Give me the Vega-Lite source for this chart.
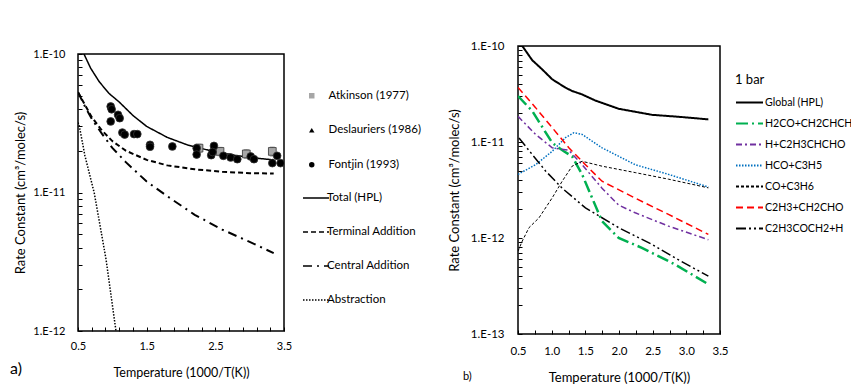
{
  "$schema": "https://vega.github.io/schema/vega-lite/v6.json",
  "padding": {"left": 10, "top": 39, "right": 0, "bottom": 0},
  "config": {
    "font": "Lato",
    "view": {"stroke": "#000", "strokeWidth": 1.5},
    "axis": {"domain": false, "grid": false, "tickColor": "#000", "tickSize": -4, "tickWidth": 1, "labelColor": "#000", "titleColor": "#000", "labelFontSize": 11, "titleFontSize": 13, "titleFontWeight": "normal", "labelFlush": false, "labelOverlap": false, "labelBound": false},
    "legend": {"labelFontSize": 11, "labelColor": "#000", "padding": 0},
    "title": {"color": "#000", "fontWeight": "normal"}
  },
  "title": {"text": "a)", "orient": "bottom", "anchor": "start", "frame": "bounds", "fontSize": 16, "dx": -4, "dy": -24, "offset": 0},
  "spacing": 25,
  "datasets": {
    "leftLines": [
      {"curve": "Total (HPL)", "x": 0.5, "y": 1.3e-10},
      {"curve": "Total (HPL)", "x": 0.587, "y": 1.0e-10},
      {"curve": "Total (HPL)", "x": 0.684, "y": 7.9e-11},
      {"curve": "Total (HPL)", "x": 0.81, "y": 6.3e-11},
      {"curve": "Total (HPL)", "x": 0.95, "y": 5.2e-11},
      {"curve": "Total (HPL)", "x": 1.1, "y": 4.5e-11},
      {"curve": "Total (HPL)", "x": 1.3, "y": 3.6e-11},
      {"curve": "Total (HPL)", "x": 1.5, "y": 3.0e-11},
      {"curve": "Total (HPL)", "x": 1.8, "y": 2.5e-11},
      {"curve": "Total (HPL)", "x": 2.1, "y": 2.2e-11},
      {"curve": "Total (HPL)", "x": 2.4, "y": 2.02e-11},
      {"curve": "Total (HPL)", "x": 2.8, "y": 1.85e-11},
      {"curve": "Total (HPL)", "x": 3.1, "y": 1.77e-11},
      {"curve": "Total (HPL)", "x": 3.35, "y": 1.72e-11},
      {"curve": "Terminal Addition", "x": 0.5, "y": 5.3e-11},
      {"curve": "Terminal Addition", "x": 0.6, "y": 4.3e-11},
      {"curve": "Terminal Addition", "x": 0.7, "y": 3.5e-11},
      {"curve": "Terminal Addition", "x": 0.85, "y": 2.8e-11},
      {"curve": "Terminal Addition", "x": 1.0, "y": 2.35e-11},
      {"curve": "Terminal Addition", "x": 1.2, "y": 2.0e-11},
      {"curve": "Terminal Addition", "x": 1.5, "y": 1.72e-11},
      {"curve": "Terminal Addition", "x": 1.8, "y": 1.57e-11},
      {"curve": "Terminal Addition", "x": 2.2, "y": 1.47e-11},
      {"curve": "Terminal Addition", "x": 2.6, "y": 1.41e-11},
      {"curve": "Terminal Addition", "x": 3.0, "y": 1.38e-11},
      {"curve": "Terminal Addition", "x": 3.35, "y": 1.37e-11},
      {"curve": "Central Addition", "x": 0.5, "y": 5.3e-11},
      {"curve": "Central Addition", "x": 0.6, "y": 4.2e-11},
      {"curve": "Central Addition", "x": 0.7, "y": 3.4e-11},
      {"curve": "Central Addition", "x": 0.85, "y": 2.65e-11},
      {"curve": "Central Addition", "x": 1.0, "y": 2.1e-11},
      {"curve": "Central Addition", "x": 1.2, "y": 1.65e-11},
      {"curve": "Central Addition", "x": 1.5, "y": 1.2e-11},
      {"curve": "Central Addition", "x": 1.8, "y": 9.4e-12},
      {"curve": "Central Addition", "x": 2.2, "y": 6.9e-12},
      {"curve": "Central Addition", "x": 2.6, "y": 5.4e-12},
      {"curve": "Central Addition", "x": 3.0, "y": 4.4e-12},
      {"curve": "Central Addition", "x": 3.35, "y": 3.65e-12},
      {"curve": "Abstraction", "x": 0.5, "y": 3.2e-11},
      {"curve": "Abstraction", "x": 0.52, "y": 3.0e-11},
      {"curve": "Abstraction", "x": 0.6, "y": 1.85e-11},
      {"curve": "Abstraction", "x": 0.737, "y": 9.9e-12},
      {"curve": "Abstraction", "x": 0.908, "y": 3.3e-12},
      {"curve": "Abstraction", "x": 1.053, "y": 1.0e-12}
    ],
    "leftPts": [
      {"source": "Atkinson (1977)", "x": 2.262, "y": 2.09e-11, "err": 1.5e-12},
      {"source": "Atkinson (1977)", "x": 2.568, "y": 1.98e-11, "err": 1.4e-12},
      {"source": "Atkinson (1977)", "x": 2.951, "y": 1.9e-11, "err": 1.4e-12},
      {"source": "Atkinson (1977)", "x": 3.33, "y": 1.98e-11, "err": 1.5e-12},
      {"source": "Fontjin (1993)", "x": 0.976, "y": 4.18e-11},
      {"source": "Fontjin (1993)", "x": 0.99, "y": 3.99e-11},
      {"source": "Fontjin (1993)", "x": 0.976, "y": 3.26e-11},
      {"source": "Fontjin (1993)", "x": 1.083, "y": 3.64e-11},
      {"source": "Fontjin (1993)", "x": 1.107, "y": 3.44e-11},
      {"source": "Fontjin (1993)", "x": 1.146, "y": 2.71e-11},
      {"source": "Fontjin (1993)", "x": 1.18, "y": 2.62e-11},
      {"source": "Fontjin (1993)", "x": 1.316, "y": 2.64e-11},
      {"source": "Fontjin (1993)", "x": 1.364, "y": 2.64e-11},
      {"source": "Fontjin (1993)", "x": 1.549, "y": 2.21e-11},
      {"source": "Fontjin (1993)", "x": 1.549, "y": 2.14e-11},
      {"source": "Fontjin (1993)", "x": 1.874, "y": 2.15e-11},
      {"source": "Fontjin (1993)", "x": 2.228, "y": 2.09e-11},
      {"source": "Fontjin (1993)", "x": 2.228, "y": 1.88e-11},
      {"source": "Fontjin (1993)", "x": 2.48, "y": 2.17e-11},
      {"source": "Fontjin (1993)", "x": 2.44, "y": 1.86e-11},
      {"source": "Fontjin (1993)", "x": 2.46, "y": 1.96e-11},
      {"source": "Fontjin (1993)", "x": 2.617, "y": 1.84e-11},
      {"source": "Fontjin (1993)", "x": 2.723, "y": 1.79e-11},
      {"source": "Fontjin (1993)", "x": 2.82, "y": 1.74e-11},
      {"source": "Fontjin (1993)", "x": 3.015, "y": 1.82e-11},
      {"source": "Fontjin (1993)", "x": 3.063, "y": 1.74e-11},
      {"source": "Fontjin (1993)", "x": 3.33, "y": 1.63e-11},
      {"source": "Fontjin (1993)", "x": 3.4, "y": 1.84e-11},
      {"source": "Fontjin (1993)", "x": 3.45, "y": 1.63e-11}
    ],
    "rightLines": [
      {"rxn": "Global (HPL)", "x": 0.5, "y": 1.25e-10},
      {"rxn": "Global (HPL)", "x": 0.564, "y": 1.0e-10},
      {"rxn": "Global (HPL)", "x": 0.712, "y": 7.1e-11},
      {"rxn": "Global (HPL)", "x": 0.86, "y": 5.7e-11},
      {"rxn": "Global (HPL)", "x": 1.008, "y": 4.5e-11},
      {"rxn": "Global (HPL)", "x": 1.205, "y": 3.68e-11},
      {"rxn": "Global (HPL)", "x": 1.304, "y": 3.4e-11},
      {"rxn": "Global (HPL)", "x": 1.452, "y": 3.13e-11},
      {"rxn": "Global (HPL)", "x": 1.65, "y": 2.7e-11},
      {"rxn": "Global (HPL)", "x": 1.995, "y": 2.22e-11},
      {"rxn": "Global (HPL)", "x": 2.488, "y": 1.92e-11},
      {"rxn": "Global (HPL)", "x": 2.932, "y": 1.82e-11},
      {"rxn": "Global (HPL)", "x": 3.327, "y": 1.72e-11},
      {"rxn": "H2CO+CH2CHCH", "x": 0.5, "y": 3.01e-11},
      {"rxn": "H2CO+CH2CHCH", "x": 0.712, "y": 2.1e-11},
      {"rxn": "H2CO+CH2CHCH", "x": 1.008, "y": 9.8e-12},
      {"rxn": "H2CO+CH2CHCH", "x": 1.181, "y": 8.0e-12},
      {"rxn": "H2CO+CH2CHCH", "x": 1.304, "y": 7.1e-12},
      {"rxn": "H2CO+CH2CHCH", "x": 1.452, "y": 4.6e-12},
      {"rxn": "H2CO+CH2CHCH", "x": 1.6, "y": 2.62e-12},
      {"rxn": "H2CO+CH2CHCH", "x": 1.748, "y": 1.5e-12},
      {"rxn": "H2CO+CH2CHCH", "x": 1.995, "y": 1.0e-12},
      {"rxn": "H2CO+CH2CHCH", "x": 2.34, "y": 7.9e-13},
      {"rxn": "H2CO+CH2CHCH", "x": 2.833, "y": 5.3e-13},
      {"rxn": "H2CO+CH2CHCH", "x": 3.327, "y": 3.3e-13},
      {"rxn": "H+C2H3CHCHO", "x": 0.5, "y": 1.85e-11},
      {"rxn": "H+C2H3CHCHO", "x": 0.761, "y": 1.2e-11},
      {"rxn": "H+C2H3CHCHO", "x": 1.008, "y": 8.7e-12},
      {"rxn": "H+C2H3CHCHO", "x": 1.255, "y": 8.2e-12},
      {"rxn": "H+C2H3CHCHO", "x": 1.452, "y": 5.8e-12},
      {"rxn": "H+C2H3CHCHO", "x": 1.748, "y": 3.3e-12},
      {"rxn": "H+C2H3CHCHO", "x": 1.995, "y": 2.2e-12},
      {"rxn": "H+C2H3CHCHO", "x": 2.241, "y": 1.83e-12},
      {"rxn": "H+C2H3CHCHO", "x": 2.735, "y": 1.33e-12},
      {"rxn": "H+C2H3CHCHO", "x": 3.327, "y": 9.6e-13},
      {"rxn": "HCO+C3H5", "x": 0.5, "y": 4.6e-12},
      {"rxn": "HCO+C3H5", "x": 0.761, "y": 5.8e-12},
      {"rxn": "HCO+C3H5", "x": 1.008, "y": 8.0e-12},
      {"rxn": "HCO+C3H5", "x": 1.205, "y": 1.11e-11},
      {"rxn": "HCO+C3H5", "x": 1.329, "y": 1.25e-11},
      {"rxn": "HCO+C3H5", "x": 1.452, "y": 1.2e-11},
      {"rxn": "HCO+C3H5", "x": 1.748, "y": 8.7e-12},
      {"rxn": "HCO+C3H5", "x": 2.241, "y": 5.8e-12},
      {"rxn": "HCO+C3H5", "x": 2.735, "y": 4.6e-12},
      {"rxn": "HCO+C3H5", "x": 3.327, "y": 3.4e-12},
      {"rxn": "CO+C3H6", "x": 0.5, "y": 7.3e-13},
      {"rxn": "CO+C3H6", "x": 0.564, "y": 9.3e-13},
      {"rxn": "CO+C3H6", "x": 0.663, "y": 1.28e-12},
      {"rxn": "CO+C3H6", "x": 0.811, "y": 1.62e-12},
      {"rxn": "CO+C3H6", "x": 1.008, "y": 2.62e-12},
      {"rxn": "CO+C3H6", "x": 1.156, "y": 3.9e-12},
      {"rxn": "CO+C3H6", "x": 1.304, "y": 5.6e-12},
      {"rxn": "CO+C3H6", "x": 1.452, "y": 6.3e-12},
      {"rxn": "CO+C3H6", "x": 1.748, "y": 5.6e-12},
      {"rxn": "CO+C3H6", "x": 2.241, "y": 4.8e-12},
      {"rxn": "CO+C3H6", "x": 2.735, "y": 4.1e-12},
      {"rxn": "CO+C3H6", "x": 3.327, "y": 3.33e-12},
      {"rxn": "C2H3+CH2CHO", "x": 0.5, "y": 3.7e-11},
      {"rxn": "C2H3+CH2CHO", "x": 0.761, "y": 2.28e-11},
      {"rxn": "C2H3+CH2CHO", "x": 1.008, "y": 1.41e-11},
      {"rxn": "C2H3+CH2CHO", "x": 1.255, "y": 8.7e-12},
      {"rxn": "C2H3+CH2CHO", "x": 1.502, "y": 5.8e-12},
      {"rxn": "C2H3+CH2CHO", "x": 1.748, "y": 3.9e-12},
      {"rxn": "C2H3+CH2CHO", "x": 2.241, "y": 2.6e-12},
      {"rxn": "C2H3+CH2CHO", "x": 2.735, "y": 1.76e-12},
      {"rxn": "C2H3+CH2CHO", "x": 3.327, "y": 1.09e-12},
      {"rxn": "C2H3COCH2+H", "x": 0.515, "y": 1.1e-11},
      {"rxn": "C2H3COCH2+H", "x": 0.712, "y": 7.4e-12},
      {"rxn": "C2H3COCH2+H", "x": 0.909, "y": 5.0e-12},
      {"rxn": "C2H3COCH2+H", "x": 1.156, "y": 3.3e-12},
      {"rxn": "C2H3COCH2+H", "x": 1.502, "y": 2.06e-12},
      {"rxn": "C2H3COCH2+H", "x": 1.995, "y": 1.28e-12},
      {"rxn": "C2H3COCH2+H", "x": 2.488, "y": 8.6e-13},
      {"rxn": "C2H3COCH2+H", "x": 2.833, "y": 6.2e-13},
      {"rxn": "C2H3COCH2+H", "x": 3.327, "y": 4.0e-13}
    ]
  },
  "hconcat": [
    {
      "spacing": 0,
      "vconcat": [
        {
          "width": 206,
          "height": 1,
          "view": {"stroke": null},
          "data": {"values": []},
          "mark": {"type": "rule"},
          "encoding": {}
        },
        {
          "width": 206,
          "height": 277,
          "encoding": {
            "x": {"field": "x", "type": "quantitative", "scale": {"domain": [0.5, 3.5], "nice": false, "zero": false},
              "axis": {"title": "Temperature (1000/T(K))", "values": [0.5, 0.7, 0.9, 1.1, 1.3, 1.5, 1.7, 1.9, 2.1, 2.3, 2.5, 2.7, 2.9, 3.1, 3.3, 3.5],
                "labelExpr": "abs(datum.value*2 - 2*floor(datum.value) - 1) < 0.01 ? format(datum.value, '.1f') : ''",
                "labelPadding": 13, "titlePadding": 15, "titleFontSize": 12.5}},
            "y": {"field": "y", "type": "quantitative", "scale": {"type": "log", "domain": [1e-12, 1e-10], "nice": false},
              "axis": {"title": "Rate Constant (cm³/molec/s)", "values": [1e-12, 2e-12, 3e-12, 4e-12, 5e-12, 6e-12, 7e-12, 8e-12, 9e-12, 1e-11, 2e-11, 3e-11, 4e-11, 5e-11, 6e-11, 7e-11, 8e-11, 9e-11, 1e-10],
                "labelExpr": "abs(log(datum.value)/LN10 - round(log(datum.value)/LN10)) < 0.01 ? '1.E' + round(log(datum.value)/LN10) : ''",
                "labelPadding": 17, "titlePadding": 5}}
          },
          "layer": [
            {
              "data": {"name": "leftLines"},
              "encoding": {
                "strokeDash": {"field": "curve", "type": "nominal",
                  "scale": {"domain": ["Total (HPL)", "Terminal Addition", "Central Addition", "Abstraction"], "range": [[1, 0], [5, 3], [9, 5, 2, 5], [1.5, 1.5]]},
                  "legend": {"title": null, "orient": "none", "legendX": 224, "legendY": 130, "symbolType": "stroke", "symbolSize": 676, "symbolStrokeColor": "#000", "symbolStrokeWidth": 1.5, "rowPadding": 14, "labelOffset": -3, "labelFontSize": 11.5}}
              },
              "layer": [
                {"transform": [{"filter": "datum.curve == 'Total (HPL)' || datum.curve == 'Abstraction'"}], "mark": {"type": "line", "clip": true, "color": "#000", "strokeWidth": 1.5}},
                {"transform": [{"filter": "datum.curve == 'Terminal Addition' || datum.curve == 'Central Addition'"}], "mark": {"type": "line", "clip": true, "color": "#000", "strokeWidth": 2}}
              ]
            },
            {
              "data": {"name": "leftPts"},
              "transform": [{"filter": "datum.err > 0"}],
              "mark": {"type": "errorbar", "ticks": true, "color": "#888"},
              "encoding": {"yError": {"field": "err"}}
            },
            {
              "data": {"name": "leftPts"},
              "mark": {"type": "point", "filled": true, "stroke": "#333", "strokeWidth": 0.8, "opacity": 1, "size": 60, "clip": true},
              "encoding": {
                "shape": {"field": "source", "type": "nominal",
                  "scale": {"domain": ["Atkinson (1977)", "Deslauriers (1986)", "Fontjin (1993)"], "range": ["square", "triangle-up", "circle"]},
                  "legend": {"title": null, "orient": "none", "legendX": 228, "legendY": 36, "symbolSize": 30, "rowPadding": 21.5, "labelOffset": 11, "labelFontSize": 11.5, "symbolStrokeColor": "#333", "symbolStrokeWidth": 0.8}},
                "fill": {"field": "source", "type": "nominal",
                  "scale": {"domain": ["Atkinson (1977)", "Deslauriers (1986)", "Fontjin (1993)"], "range": ["#a6a6a6", "#000", "#000"]},
                  "legend": {"title": null, "orient": "none", "legendX": 228, "legendY": 36, "symbolSize": 30, "rowPadding": 21.5, "labelOffset": 11, "labelFontSize": 11.5, "symbolStrokeColor": "#333", "symbolStrokeWidth": 0.8}}
              }
            }
          ]
        }
      ],
      "resolve": {
        "scale": {"x": "independent", "y": "independent", "strokeDash": "independent", "shape": "independent", "fill": "independent"},
        "legend": {"strokeDash": "independent", "shape": "independent", "fill": "independent"}
      }
    },
    {
      "width": 202,
      "height": 288,
      "title": {"text": "b)", "orient": "bottom", "anchor": "start", "frame": "group", "fontSize": 11, "dx": -55, "dy": -14, "offset": 0},
      "data": {"name": "rightLines"},
      "encoding": {
        "x": {"field": "x", "type": "quantitative", "scale": {"domain": [0.5, 3.5], "nice": false, "zero": false},
          "axis": {"title": "Temperature (1000/T(K))", "values": [0.5, 0.75, 1.0, 1.25, 1.5, 1.75, 2.0, 2.25, 2.5, 2.75, 3.0, 3.25, 3.5],
            "labelExpr": "abs(datum.value*2 - round(datum.value*2)) < 0.01 ? format(datum.value, '.1f') : ''",
            "labelPadding": 15, "titlePadding": 15, "labelFontSize": 11.5}},
        "y": {"field": "y", "type": "quantitative", "scale": {"type": "log", "domain": [1e-13, 1e-10], "nice": false},
          "axis": {"title": "Rate Constant (cm³/molec/s)", "values": [1e-13, 2e-13, 3e-13, 4e-13, 5e-13, 6e-13, 7e-13, 8e-13, 9e-13, 1e-12, 2e-12, 3e-12, 4e-12, 5e-12, 6e-12, 7e-12, 8e-12, 9e-12, 1e-11, 2e-11, 3e-11, 4e-11, 5e-11, 6e-11, 7e-11, 8e-11, 9e-11, 1e-10],
            "labelExpr": "abs(log(datum.value)/LN10 - round(log(datum.value)/LN10)) < 0.01 ? '1.E' + round(log(datum.value)/LN10) : ''",
            "labelPadding": 18, "titlePadding": 9, "labelFontSize": 11.5}},
        "color": {"field": "rxn", "type": "nominal",
          "scale": {"domain": ["Global (HPL)", "H2CO+CH2CHCH", "H+C2H3CHCHO", "HCO+C3H5", "CO+C3H6", "C2H3+CH2CHO", "C2H3COCH2+H"], "range": ["#000000", "#00b050", "#7030a0", "#0070c0", "#000000", "#ff0000", "#000000"]},
          "legend": {"title": "1 bar", "orient": "none", "legendX": 217, "legendY": 28, "symbolType": "stroke", "symbolSize": 729, "symbolStrokeWidth": 2, "rowPadding": -3.1, "labelOffset": 1, "labelFontSize": 10.6, "titleFontSize": 13, "titleFontWeight": "normal", "titlePadding": 1, "titleColor": "#000"}},
        "strokeDash": {"field": "rxn", "type": "nominal",
          "scale": {"domain": ["Global (HPL)", "H2CO+CH2CHCH", "H+C2H3CHCHO", "HCO+C3H5", "CO+C3H6", "C2H3+CH2CHO", "C2H3COCH2+H"], "range": [[1, 0], [12, 4, 2, 4], [6, 3, 2, 3], [1.5, 1.5], [3, 2], [7, 4], [10, 3, 2, 3, 2, 3]]},
          "legend": {"title": "1 bar", "orient": "none", "legendX": 217, "legendY": 28, "symbolType": "stroke", "symbolSize": 729, "symbolStrokeWidth": 2, "rowPadding": -3.1, "labelOffset": 1, "labelFontSize": 10.6, "titleFontSize": 13, "titleFontWeight": "normal", "titlePadding": 1, "titleColor": "#000"}}
      },
      "layer": [
        {"transform": [{"filter": "datum.rxn == 'Global (HPL)'"}], "mark": {"type": "line", "clip": true, "strokeWidth": 2}},
        {"transform": [{"filter": "datum.rxn == 'H2CO+CH2CHCH'"}], "mark": {"type": "line", "clip": true, "strokeWidth": 2.5}},
        {"transform": [{"filter": "datum.rxn == 'H+C2H3CHCHO' || datum.rxn == 'HCO+C3H5' || datum.rxn == 'C2H3+CH2CHO' || datum.rxn == 'C2H3COCH2+H'"}], "mark": {"type": "line", "clip": true, "strokeWidth": 1.5}},
        {"transform": [{"filter": "datum.rxn == 'CO+C3H6'"}], "mark": {"type": "line", "clip": true, "strokeWidth": 1}}
      ]
    }
  ],
  "resolve": {
    "scale": {"x": "independent", "y": "independent", "color": "independent", "strokeDash": "independent", "shape": "independent", "fill": "independent"},
    "legend": {"color": "independent", "strokeDash": "independent", "shape": "independent", "fill": "independent"}
  }
}
